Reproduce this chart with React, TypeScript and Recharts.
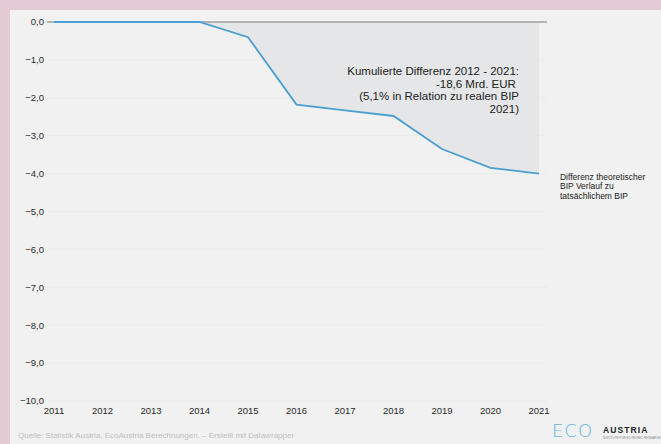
import React from 'react';
import {
  ComposedChart,
  Line,
  Area,
  XAxis,
  YAxis,
  ReferenceLine,
  ReferenceDot,
  CartesianGrid,
} from 'recharts';

const years = [2011, 2012, 2013, 2014, 2015, 2016, 2017, 2018, 2019, 2020, 2021];
const diffValues = [0, 0, 0, 0, -0.4, -2.18, -2.33, -2.48, -3.35, -3.85, -4.0];
const yTicks = [0, -1, -2, -3, -4, -5, -6, -7, -8, -9, -10];
const seriesLabel = ['Differenz theoretischer', 'BIP Verlauf zu', 'tatsächlichem BIP'];
const annotationLines = [
  'Kumulierte Differenz 2012 - 2021:',
  '-18,6 Mrd. EUR ',
  '(5,1% in Relation zu realen BIP',
  '2021)',
];
const sourceText = 'Quelle: Statistik Austria; EcoAustria Berechnungen. – Erstellt mit Datawrapper';

const data = years.map((y, i) => ({ year: y, value: diffValues[i] }));

const FONT = '"Liberation Sans", Arial, sans-serif';

const fmtY = (v: number) => {
  const s = Math.abs(v).toFixed(1).replace('.', ',');
  return v < 0 ? '\u2212' + s : s;
};

const EndLabel = (props: any) => {
  const { viewBox } = props;
  const x = viewBox.x + 21;
  const y = viewBox.y + 6;
  return (
    <text x={x} y={y} fontFamily={FONT} fontSize={8.5} fill="#222">
      {seriesLabel.map((t, i) => (
        <tspan key={i} x={x} y={y + i * 9.5}>
          {t}
        </tspan>
      ))}
    </text>
  );
};

export default function App() {
  return (
    <div
      style={{
        position: 'absolute',
        left: 0,
        top: 0,
        width: 661,
        height: 444,
        background: '#e3cad4',
        overflow: 'hidden',
        fontFamily: FONT,
      }}
    >
      <div
        style={{
          position: 'absolute',
          left: 10,
          top: 10,
          width: 651,
          height: 434,
          background: '#f0f1f0',
        }}
      />
      <div style={{ position: 'absolute', left: 0, top: 0 }}>
        <ComposedChart
          width={661}
          height={444}
          data={data}
          margin={{ top: 22, right: 114, bottom: 0, left: 0 }}
        >
          <CartesianGrid vertical={false} stroke="#ebeceb" />
          <XAxis
            dataKey="year"
            type="number"
            domain={[2010.856, 2021.165]}
            ticks={years}
            allowDataOverflow
            axisLine={false}
            tickLine={false}
            tickSize={0}
            tickMargin={6}
            height={43}
            tick={{ fontSize: 9.5, fill: '#2a2a2a', fontFamily: FONT }}
          />
          <YAxis
            domain={[-10, 0]}
            ticks={yTicks}
            width={47}
            axisLine={false}
            tickLine={false}
            tickSize={0}
            tickMargin={3}
            tickFormatter={fmtY}
            tick={{ fontSize: 9.5, fill: '#2a2a2a', fontFamily: FONT }}
          />
          <Area
            dataKey="value"
            baseValue={0}
            fill="#e5e6e7"
            fillOpacity={1}
            stroke="none"
            isAnimationActive={false}
          />
          <ReferenceLine y={0} stroke="#7a7a7a" strokeWidth={1.2} />
          <Line
            dataKey="value"
            stroke="#4a9fd0"
            strokeWidth={1.8}
            dot={false}
            isAnimationActive={false}
          />
          <ReferenceDot
            x={years[years.length - 1]}
            y={diffValues[diffValues.length - 1]}
            r={0}
            stroke="none"
            label={<EndLabel />}
          />
        </ComposedChart>
      </div>
      <div
        style={{
          position: 'absolute',
          right: 142,
          top: 65,
          textAlign: 'right',
          fontSize: 11.5,
          lineHeight: '12.5px',
          color: '#222',
          whiteSpace: 'pre',
        }}
      >
        {annotationLines.map((t, i) => (
          <div key={i}>{t}</div>
        ))}
      </div>
      <div
        style={{
          position: 'absolute',
          left: 18,
          top: 431,
          fontSize: 8,
          color: '#c0c0c0',
          whiteSpace: 'nowrap',
        }}
      >
        {sourceText}
      </div>
      <div
        style={{
          position: 'absolute',
          left: 552,
          top: 422,
          fontSize: 18,
          color: '#5db6e2',
          fontFamily: '"DejaVu Sans", sans-serif',
          fontWeight: 300,
          letterSpacing: 1,
          lineHeight: '18px',
        }}
      >
        ECO
      </div>
      <div
        style={{
          position: 'absolute',
          left: 603,
          top: 425,
          fontSize: 8.5,
          fontWeight: 700,
          color: '#222',
          letterSpacing: 1.1,
          lineHeight: '10px',
        }}
      >
        AUSTRIA
      </div>
      <div
        style={{
          position: 'absolute',
          left: 603,
          top: 436,
          fontSize: 3,
          color: '#888',
          whiteSpace: 'nowrap',
          lineHeight: '4px',
        }}
      >
        INSTITUTE FOR ECONOMIC RESEARCH
      </div>
    </div>
  );
}
